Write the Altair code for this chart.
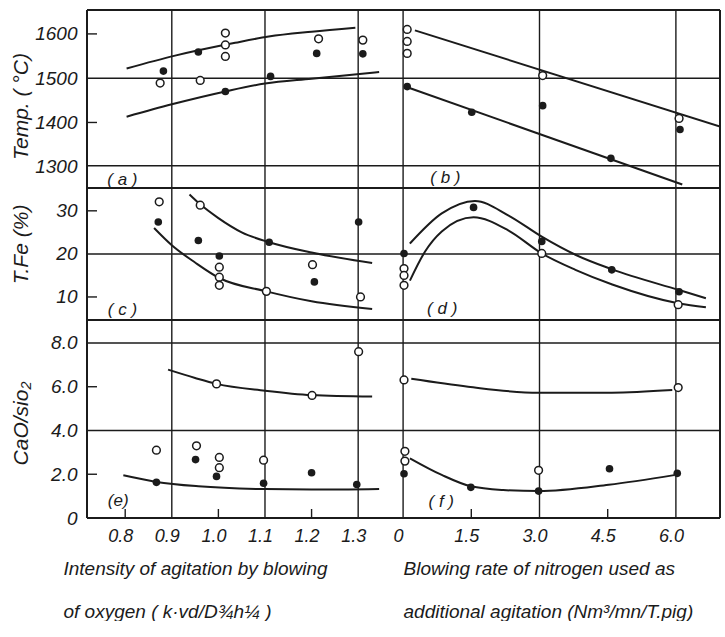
import altair as alt
import pandas as pd

FONT = "Liberation Sans, Arial, sans-serif"
INK = "#1b1b1b"

# ---------------- data ----------------
# (a) Temperature vs intensity of agitation by blowing of oxygen
a_open_x = [0.875, 0.961, 1.015, 1.015, 1.015, 1.215, 1.310]
a_open_y = [1489, 1495, 1602, 1575, 1549, 1589, 1586]
a_fill_x = [0.882, 0.957, 1.015, 1.112, 1.211, 1.310]
a_fill_y = [1516, 1559, 1470, 1504, 1556, 1555]
a_upper_x = [0.803, 0.907, 1.036, 1.108, 1.200, 1.294]
a_upper_y = [1522, 1551, 1580, 1594, 1605, 1614]
a_lower_x = [0.803, 0.900, 1.015, 1.100, 1.200, 1.345]
a_lower_y = [1413, 1441, 1470, 1488, 1499, 1514]

# (b) Temperature vs blowing rate of nitrogen
b_open_x = [0.09, 0.09, 0.09, 3.07, 6.07]
b_open_y = [1610, 1583, 1556, 1506, 1409]
b_fill_x = [0.09, 1.51, 3.07, 4.57, 6.09]
b_fill_y = [1481, 1423, 1438, 1319, 1384]
b_upper_x = [0.26, 6.97]
b_upper_y = [1608, 1391]
b_lower_x = [0.11, 6.14]
b_lower_y = [1479, 1260]

# (c) T.Fe vs intensity of agitation
c_open_x = [0.873, 0.961, 1.002, 1.002, 1.002, 1.103, 1.202, 1.305]
c_open_y = [32.1, 31.3, 16.9, 14.6, 12.7, 11.3, 17.5, 10.0]
c_fill_x = [0.871, 0.957, 1.002, 1.109, 1.206, 1.301]
c_fill_y = [27.4, 23.1, 19.5, 22.7, 13.5, 27.4]
c_upper_x = [0.938, 0.961, 1.000, 1.050, 1.109, 1.200, 1.330]
c_upper_y = [33.8, 31.5, 28.3, 25.0, 22.7, 20.3, 17.9]
c_lower_x = [0.862, 0.900, 0.950, 1.002, 1.103, 1.200, 1.330]
c_lower_y = [26.0, 22.0, 18.0, 14.4, 11.3, 9.0, 7.2]

# (d) T.Fe vs blowing rate of nitrogen
d_open_x = [0.02, 0.02, 0.02, 3.05, 6.05]
d_open_y = [16.6, 15.0, 12.7, 20.1, 8.2]
d_fill_x = [0.02, 1.55, 3.05, 4.59, 6.07]
d_fill_y = [20.1, 30.8, 22.9, 16.3, 11.2]
d_upper_x = [0.15, 0.85, 1.58, 2.32, 3.05, 3.79, 4.60, 6.07, 6.66]
d_upper_y = [22.4, 29.4, 32.3, 28.9, 24.0, 19.8, 16.4, 11.6, 9.7]
d_lower_x = [0.15, 0.48, 0.85, 1.55, 2.32, 3.05, 3.79, 4.60, 6.07, 6.66]
d_lower_y = [13.8, 20.5, 25.2, 28.5, 25.4, 20.1, 16.3, 12.9, 8.5, 7.6]

# (e) CaO/SiO2 vs intensity of agitation
e_open_x = [0.867, 0.953, 1.002, 1.002, 1.097, 0.996, 1.201, 1.301]
e_open_y = [3.10, 3.30, 2.77, 2.30, 2.64, 6.13, 5.60, 7.60]
e_fill_x = [0.867, 0.951, 0.996, 1.097, 1.200, 1.297]
e_fill_y = [1.63, 2.67, 1.90, 1.59, 2.07, 1.53]
e_upper_x = [0.892, 0.950, 0.996, 1.100, 1.200, 1.330]
e_upper_y = [6.78, 6.40, 6.13, 5.82, 5.62, 5.55]
e_lower_x = [0.796, 0.867, 0.957, 1.100, 1.200, 1.345]
e_lower_y = [1.95, 1.65, 1.45, 1.32, 1.30, 1.33]

# (f) CaO/SiO2 vs blowing rate of nitrogen
f_open_x = [0.02, 6.05, 0.04, 0.04, 2.98]
f_open_y = [6.31, 5.96, 3.05, 2.60, 2.18]
f_fill_x = [0.02, 1.49, 2.98, 4.54, 6.03]
f_fill_y = [2.02, 1.40, 1.23, 2.25, 2.04]
f_upper_x = [0.18, 1.43, 2.98, 4.59, 5.92]
f_upper_y = [6.36, 6.00, 5.72, 5.73, 5.85]
f_lower_x = [0.15, 0.85, 1.49, 2.20, 2.98, 4.52, 5.96]
f_lower_y = [2.73, 1.97, 1.45, 1.28, 1.23, 1.52, 1.96]

# tick labels
left_x_ticks = [0.8, 0.9, 1.0, 1.1, 1.2, 1.3]
right_x_ticks = [0, 1.5, 3.0, 4.5, 6.0]
temp_ticks = [1600, 1500, 1400, 1300]
tfe_ticks = [30, 20, 10]
basic_ticks = [8.0, 6.0, 4.0, 2.0, 0]

# panel labels: text, x, y
labels = {
    "a": ("( a )", 0.794, 1269), "b": ("( b )", 0.93, 1275),
    "c": ("( c )", 0.794, 6.9), "d": ("( d )", 0.86, 7.2),
    "e": ("(e)", 0.785, 0.78), "f": ("( f )", 0.84, 0.73),
}

# ---------------- layout ----------------
LW, RW = 294, 339
H1, H2, H3 = 178, 132, 198
LX = [0.718, 1.349]
RX = [-0.486, 6.97]
Y1 = [1252, 1654]
Y2 = [4.65, 35.3]
Y3 = [0, 9.05]

LBL_EXPR = "datum.value == 0 ? '0' : (datum.value >= 100 ? format(datum.value, 'd') : format(datum.value, '.1f'))"
Y_EXPR_INT = "format(datum.value, 'd')"


def y_axis(vals, title, ty, expr):
    return alt.Axis(values=vals, labelExpr=expr, grid=False, ticks=False, domain=False,
                    labelFont=FONT, labelFontSize=19, labelFontStyle="italic", labelColor=INK,
                    labelPadding=10, labelBaseline="middle",
                    title=title, titleFont=FONT, titleFontSize=21, titleFontStyle="italic",
                    titleFontWeight="normal", titleColor=INK, titleAngle=270,
                    titleX=-56, titleY=ty, titleAlign="center", titleBaseline="bottom")


def x_axis(vals, title, tx):
    return alt.Axis(values=vals, labelExpr=LBL_EXPR, grid=False, ticks=False, domain=False,
                    labelFont=FONT, labelFontSize=18, labelFontStyle="italic", labelColor=INK,
                    labelPadding=9, labelOffset=-5,
                    title=title, titleFont=FONT, titleFontSize=19, titleFontStyle="italic",
                    titleFontWeight="normal", titleColor=INK, titleAlign="left",
                    titleX=tx, titleY=56, titleBaseline="alphabetic", titleLineHeight=43)


def panel(xdom, ydom, w, h, xax, yax, hlines, vlines, xshort, yshort,
          upper, lower, opn, fil, lab, left_edge, right_edge, bottom_edge):
    xs = alt.Scale(domain=xdom, nice=False, zero=False)
    ys = alt.Scale(domain=ydom, nice=False, zero=False)

    def X(f):
        return alt.X(f, type="quantitative", scale=xs, axis=xax)

    def Y(f):
        return alt.Y(f, type="quantitative", scale=ys, axis=yax)

    one = pd.DataFrame({"v": [0]})
    layers = []
    layers.append(alt.Chart(pd.DataFrame({"v": hlines})).mark_rule(color=INK, strokeWidth=1.5)
                  .encode(y=Y("v"), x=alt.value(0), x2=alt.value(w)))
    layers.append(alt.Chart(pd.DataFrame({"v": vlines})).mark_rule(color=INK, strokeWidth=1.4)
                  .encode(x=X("v"), y=alt.value(0), y2=alt.value(h)))
    if xshort:
        layers.append(alt.Chart(pd.DataFrame({"v": xshort})).mark_rule(color=INK, strokeWidth=1.4)
                      .encode(x=X("v"), y=alt.value(h), y2=alt.value(h - 9)))
    if yshort:
        layers.append(alt.Chart(pd.DataFrame({"v": yshort})).mark_rule(color=INK, strokeWidth=1.4)
                      .encode(y=Y("v"), x=alt.value(0), x2=alt.value(10)))
    # frame
    layers.append(alt.Chart(one).mark_rule(color=INK, strokeWidth=2)
                  .encode(y=alt.value(0), x=alt.value(0), x2=alt.value(w)))
    if bottom_edge:
        layers.append(alt.Chart(one).mark_rule(color=INK, strokeWidth=2)
                      .encode(y=alt.value(h), x=alt.value(0), x2=alt.value(w)))
    if left_edge:
        layers.append(alt.Chart(one).mark_rule(color=INK, strokeWidth=2)
                      .encode(x=alt.value(0), y=alt.value(0), y2=alt.value(h)))
    if right_edge:
        layers.append(alt.Chart(one).mark_rule(color=INK, strokeWidth=2)
                      .encode(x=alt.value(w), y=alt.value(0), y2=alt.value(h)))
    # curves
    cur = pd.concat([
        pd.DataFrame({"x": upper[0], "y": upper[1], "s": "upper"}),
        pd.DataFrame({"x": lower[0], "y": lower[1], "s": "lower"}),
    ])
    layers.append(alt.Chart(cur).mark_line(color=INK, strokeWidth=2, interpolate="monotone", clip=True)
                  .encode(x=X("x"), y=Y("y"), detail="s:N"))
    layers.append(alt.Chart(pd.DataFrame({"x": opn[0], "y": opn[1]}))
                  .mark_point(shape="circle", filled=True, fill="white", stroke=INK, strokeWidth=1.5,
                              size=60, opacity=1)
                  .encode(x=X("x"), y=Y("y")))
    layers.append(alt.Chart(pd.DataFrame({"x": fil[0], "y": fil[1]}))
                  .mark_point(shape="circle", filled=True, color=INK, size=58, opacity=1)
                  .encode(x=X("x"), y=Y("y")))
    layers.append(alt.Chart(pd.DataFrame({"x": [lab[1]], "y": [lab[2]], "t": [lab[0]]}))
                  .mark_text(font=FONT, fontSize=17, fontStyle="italic", color=INK,
                             align="center", baseline="middle")
                  .encode(x=X("x"), y=Y("y"), text="t:N"))
    return alt.layer(*layers).properties(width=w, height=h)


pa = panel(LX, Y1, LW, H1, None, y_axis(temp_ticks, "Temp. ( °C)", 96, Y_EXPR_INT),
           [1500, 1302], [0.9, 1.1, 1.3], [], [1600, 1400],
           (a_upper_x, a_upper_y), (a_lower_x, a_lower_y),
           (a_open_x, a_open_y), (a_fill_x, a_fill_y), labels["a"], True, False, False)
pb = panel(RX, Y1, RW, H1, None, None,
           [1500, 1302], [0, 3.0, 6.0], [], [],
           (b_upper_x, b_upper_y), (b_lower_x, b_lower_y),
           (b_open_x, b_open_y), (b_fill_x, b_fill_y), labels["b"], False, True, False)
pc = panel(LX, Y2, LW, H2, None, y_axis(tfe_ticks, "T.Fe (%)", 56, Y_EXPR_INT),
           [20], [0.9, 1.1, 1.3], [], [30, 10],
           (c_upper_x, c_upper_y), (c_lower_x, c_lower_y),
           (c_open_x, c_open_y), (c_fill_x, c_fill_y), labels["c"], True, False, False)
pd_ = panel(RX, Y2, RW, H2, None, None,
            [20], [0, 3.0, 6.0], [], [],
            (d_upper_x, d_upper_y), (d_lower_x, d_lower_y),
            (d_open_x, d_open_y), (d_fill_x, d_fill_y), labels["d"], False, True, False)
pe = panel(LX, Y3, LW, H3,
           x_axis(left_x_ticks, ["Intensity of agitation by blowing",
                                 "\u2003of oxygen ( k·vd/D¾h¼ )"], -24),
           y_axis(basic_ticks, "CaO/sio₂", 103, LBL_EXPR),
           [8.0, 4.0], [0.9, 1.1, 1.3], [0.8, 1.0, 1.2], [6.0, 2.0],
           (e_upper_x, e_upper_y), (e_lower_x, e_lower_y),
           (e_open_x, e_open_y), (e_fill_x, e_fill_y), labels["e"], True, False, True)
pf = panel(RX, Y3, RW, H3,
           x_axis(right_x_ticks, ["Blowing rate of nitrogen used as",
                                  "\u2003additional agitation (Nm³/mn/T.pig)"], 22),
           None,
           [8.0, 4.0], [0, 3.0, 6.0], [1.5, 4.5], [],
           (f_upper_x, f_upper_y), (f_lower_x, f_lower_y),
           (f_open_x, f_open_y), (f_fill_x, f_fill_y), labels["f"], False, True, True)

chart = alt.concat(pa, pb, pc, pd_, pe, pf, columns=2, spacing=0, bounds="flush", align="each").properties(
    padding={"left": 10, "top": 9, "right": 0, "bottom": 0},
    background="white",
).configure_view(strokeWidth=0)

chart.save("out.html", embed_options={"renderer": "svg", "actions": False})
